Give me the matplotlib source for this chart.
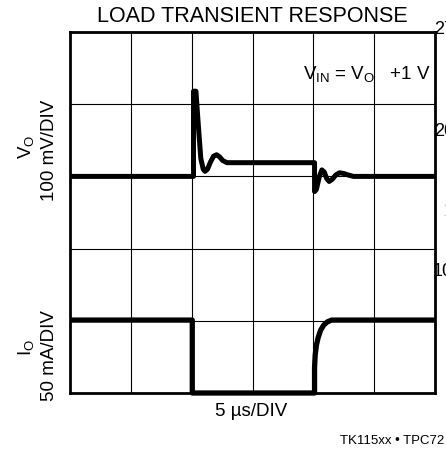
import matplotlib
matplotlib.use("Agg")
import matplotlib.pyplot as plt

plt.rcParams['font.family'] = ['Liberation Sans', 'DejaVu Sans']
plt.rcParams['mathtext.fontset'] = 'custom'
plt.rcParams['mathtext.rm'] = 'Liberation Sans'
plt.rcParams['mathtext.it'] = 'Liberation Sans:italic'

# time in divisions (5 us/DIV), output voltage in divisions (100 mV/DIV)
vo_t = [0, 2.03, 2.03, 2.07, 2.11, 2.15, 2.19, 2.22, 2.26, 2.31, 2.36, 2.41,
        2.46, 2.51, 2.58, 4.02, 4.02, 4.05, 4.10, 4.14, 4.18, 4.22, 4.26,
        4.31, 4.37, 4.43, 4.50, 4.57, 4.66, 6]
vo_v = [3.0, 3.0, 4.18, 4.18, 3.7, 3.25, 3.1, 3.07, 3.1, 3.2, 3.28, 3.30,
        3.27, 3.22, 3.19, 3.19, 2.79, 2.82, 3.0, 3.09, 3.06, 2.97, 2.93,
        2.96, 3.02, 3.05, 3.04, 3.02, 3.0, 3.0]

# load current in divisions (50 mA/DIV)
io_t = [0, 2.01, 2.01, 4.02, 4.02, 4.03, 4.05, 4.08, 4.12, 4.17, 4.23, 4.30, 6]
io_v = [1.01, 1.01, 0.0, 0.0, 0.35, 0.52, 0.66, 0.77, 0.87, 0.94, 0.985, 1.01, 1.01]

W, H = 446, 459
fig = plt.figure(figsize=(W / 100, H / 100), dpi=100)
ax = fig.add_axes([70 / W, 1 - 393 / H, 365 / W, 361 / H])

ax.set_xlim(0, 6)
ax.set_ylim(0, 5)
for gx in range(1, 6):
    ax.axvline(gx, color='black', lw=0.8, zorder=1)
for gy in range(1, 5):
    ax.axhline(gy, color='black', lw=0.8, zorder=1)
ax.set_xticks([])
ax.set_yticks([])
for s in ax.spines.values():
    s.set_linewidth(2.0)

ax.plot(vo_t, vo_v, color='black', lw=3.6, solid_joinstyle='round',
        solid_capstyle='butt', zorder=3, clip_on=False)
ax.plot(io_t, io_v, color='black', lw=3.8, solid_joinstyle='round',
        solid_capstyle='butt', zorder=3, clip_on=False)

def px(x, y, s, **kw):
    fig.text(x / W, 1 - y / H, s, **kw)

px(252, 17, 'LOAD TRANSIENT RESPONSE', ha='center', va='center', fontsize=15.5)
px(303, 74, r'V$_{\mathrm{IN}}$ = V$_{\mathrm{O}}$   +1 V', ha='left', va='center', fontsize=13.5)

px(26, 147, r'V$_{\mathrm{O}}$', ha='center', va='center', rotation=90, fontsize=13.5)
px(50, 150, '100 mV/DIV', ha='center', va='center', rotation=90, fontsize=13.5)
px(26, 348, r'I$_{\mathrm{O}}$', ha='center', va='center', rotation=90, fontsize=13.5)
px(50, 356, '50 mA/DIV', ha='center', va='center', rotation=90, fontsize=13.5)

px(251, 411, '5 µs/DIV', ha='center', va='center', fontsize=13.5)
px(340, 441, 'TK115xx • TPC72', ha='left', va='center', fontsize=9.5)

# labels bleeding in from the right edge, cut off as in the reference
px(434, 30, '27', ha='left', va='center', fontsize=13)
px(434, 131, '20', ha='left', va='center', fontsize=13)
px(443, 212, '1', ha='left', va='center', fontsize=13, color='#cccccc')
px(433, 271, '10', ha='left', va='center', fontsize=13)

fig.savefig('out.png', dpi=100)
